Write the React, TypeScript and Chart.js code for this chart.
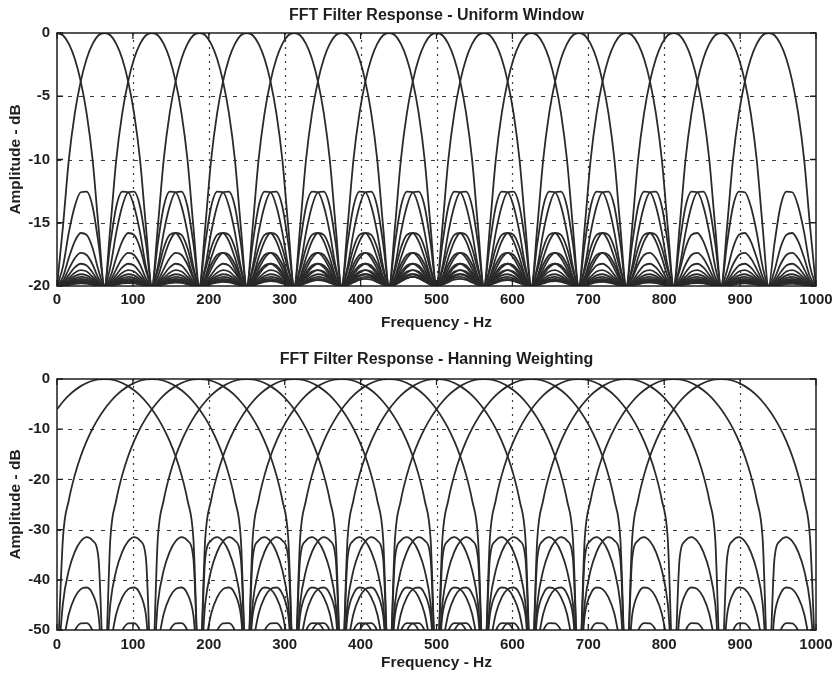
import React, { useEffect, useRef } from 'react';
import { Chart, registerables } from 'chart.js';

Chart.register(...registerables);

// ---------------- data ----------------
const FREQ_TICKS = [0, 100, 200, 300, 400, 500, 600, 700, 800, 900, 1000];
const UNIFORM_DB_TICKS = [-20, -15, -10, -5, 0];
const HANNING_DB_TICKS = [-50, -40, -30, -20, -10, 0];

// FFT bin centre frequencies (Hz) of the plotted filters
const UNIFORM_CENTRES_HZ = [0, 62.5, 125, 187.5, 250, 312.5, 375, 437.5, 500, 562.5, 625, 687.5, 750, 812.5, 875, 937.5];
const HANNING_CENTRES_HZ = [62.5, 125, 187.5, 250, 312.5, 375, 437.5, 500, 562.5, 625, 687.5, 750, 812.5, 875];

const BIN_WIDTH_HZ = 62.5;
const PROFILE_STEP_BINS = 0.125; // profile samples every 1/8 bin away from the filter centre

// Single-filter response (dB) read at offsets 0, 1/8, 2/8 ... bins from the centre
const UNIFORM_PROFILE_DB = [
  0, -0.18, -0.86, -2.04, -3.82, -6.36, -10.0, -15.32,
  -20, -16.63, -13.72, -12.54, -12.59, -13.69, -15.76, -18.47,
  -20, -18.77, -16.99, -15.96, -15.81, -16.47, -17.77, -19.28,
  -20, -19.39, -18.3, -17.55, -17.38, -17.8, -18.66, -19.59,
  -20, -19.64, -18.93, -18.38, -18.24, -18.53, -19.12, -19.74,
  -20, -19.76, -19.27, -18.86, -18.75, -18.95, -19.38, -19.82,
  -20, -19.83, -19.47, -19.16, -19.07, -19.22, -19.54, -19.87,
  -20, -19.87, -19.6, -19.36, -19.28, -19.4, -19.65, -19.9,
  -20, -19.9, -19.69, -19.5, -19.43, -19.52, -19.72, -19.92,
  -20, -19.92, -19.75, -19.59, -19.54, -19.61, -19.77, -19.93,
  -20, -19.94, -19.8, -19.66, -19.62, -19.68, -19.81, -19.95,
  -20, -19.95, -19.83, -19.72, -19.68, -19.73, -19.84, -19.95,
  -20, -19.96, -19.86, -19.76, -19.73, -19.77, -19.87, -19.96,
  -20, -19.96, -19.88, -19.79, -19.77, -19.8, -19.89, -19.97,
  -20, -19.97, -19.89, -19.82, -19.8, -19.83, -19.9, -19.97,
  -20, -19.97, -19.91, -19.84, -19.82, -19.85, -19.91, -19.97,
  -20,
];

const HANNING_PROFILE_DB = [
  0, -0.09, -0.35, -0.79, -1.42, -2.25, -3.27, -4.53,
  -6.02, -7.8, -9.89, -12.39, -15.4, -19.15, -24.1, -31.76,
  -60, -35.75, -32.17, -31.48, -32.31, -34.42, -38.08, -44.69,
  -60, -47.04, -42.8, -41.53, -41.85, -43.5, -46.76, -52.98,
  -60, -54.69, -50.16, -48.62, -48.7, -50.12, -53.16, -59.19,
  -60,
];

// ---------------- style ----------------
const FONT_FAMILY = '"Liberation Sans", Arial, Helvetica, sans-serif';
const TEXT_COLOR = '#1e1e1e';
const LINE_COLOR = '#2a2a2a';
const GRID_COLOR = '#3a3a3a';
const W = 839;
const H = 339;

function buildDatasets(centres: number[], profile: number[]) {
  const n = profile.length - 1;
  return centres.map((c) => {
    const data: { x: number; y: number }[] = [];
    for (let i = -n; i <= n; i++) {
      const x = c + i * PROFILE_STEP_BINS * BIN_WIDTH_HZ;
      if (x < FREQ_TICKS[0] || x > FREQ_TICKS[FREQ_TICKS.length - 1]) continue;
      data.push({ x, y: profile[Math.abs(i)] });
    }
    return {
      data,
      borderColor: LINE_COLOR,
      borderWidth: 1.8,
      pointRadius: 0,
      fill: false,
      cubicInterpolationMode: 'monotone' as const,
    };
  });
}

const framePlugin = {
  id: 'matlabFrame',
  beforeDatasetsDraw(chart: any) {
    const { ctx, chartArea: a, scales } = chart;
    const x = scales.x;
    const y = scales.y;
    ctx.save();
    ctx.strokeStyle = GRID_COLOR;
    ctx.lineWidth = 1.2;
    ctx.setLineDash([2, 5]);
    for (const t of x.ticks) {
      const px = Math.round(x.getPixelForValue(t.value)) + 0.5;
      if (px <= a.left + 2 || px >= a.right - 2) continue;
      ctx.beginPath();
      ctx.moveTo(px, a.top);
      ctx.lineTo(px, a.bottom);
      ctx.stroke();
    }
    ctx.setLineDash([4, 7]);
    for (const t of y.ticks) {
      const py = Math.round(y.getPixelForValue(t.value)) + 0.5;
      if (py <= a.top + 2 || py >= a.bottom - 2) continue;
      ctx.beginPath();
      ctx.moveTo(a.left, py);
      ctx.lineTo(a.right, py);
      ctx.stroke();
    }
    ctx.restore();
  },
  afterDatasetsDraw(chart: any) {
    const { ctx, chartArea: a, scales } = chart;
    const x = scales.x;
    const y = scales.y;
    ctx.save();
    ctx.setLineDash([]);
    ctx.strokeStyle = '#1e1e1e';
    ctx.lineWidth = 1.5;
    ctx.strokeRect(a.left, a.top, a.right - a.left, a.bottom - a.top);
    const tl = 6;
    ctx.lineWidth = 1.3;
    for (const t of x.ticks) {
      const px = x.getPixelForValue(t.value);
      ctx.beginPath();
      ctx.moveTo(px, a.bottom);
      ctx.lineTo(px, a.bottom - tl);
      ctx.moveTo(px, a.top);
      ctx.lineTo(px, a.top + tl);
      ctx.stroke();
    }
    for (const t of y.ticks) {
      const py = y.getPixelForValue(t.value);
      ctx.beginPath();
      ctx.moveTo(a.left, py);
      ctx.lineTo(a.left + tl, py);
      ctx.moveTo(a.right, py);
      ctx.lineTo(a.right - tl, py);
      ctx.stroke();
    }
    ctx.restore();
  },
};

interface PanelSpec {
  title: string;
  centres: number[];
  profile: number[];
  yTicks: number[];
  titlePad: { top: number; bottom: number };
  xAxisHeight: number;
  xTickPad: number;
  xTitlePadBottom: number;
}

function makeConfig(spec: PanelSpec): any {
  const tickFont = { family: FONT_FAMILY, size: 15, weight: 'bold' as const, lineHeight: 1.2 };
  const labelFont = { family: FONT_FAMILY, size: 15.5, weight: 'bold' as const, lineHeight: 1.2 };
  const titleFont = { family: FONT_FAMILY, size: 16, weight: 'bold' as const, lineHeight: 1.2 };
  return {
    type: 'line',
    data: { datasets: buildDatasets(spec.centres, spec.profile) },
    plugins: [framePlugin],
    options: {
      animation: false,
      responsive: false,
      maintainAspectRatio: false,
      events: [],
      layout: { padding: { left: 0, right: 23, top: 0, bottom: 0 } },
      plugins: {
        legend: { display: false },
        tooltip: { enabled: false },
        title: {
          display: true,
          fullSize: false,
          text: spec.title,
          color: TEXT_COLOR,
          font: titleFont,
          padding: spec.titlePad,
        },
      },
      scales: {
        x: {
          type: 'linear',
          min: FREQ_TICKS[0],
          max: FREQ_TICKS[FREQ_TICKS.length - 1],
          afterBuildTicks: (s: any) => {
            s.ticks = FREQ_TICKS.map((v) => ({ value: v }));
          },
          afterFit: (s: any) => {
            s.height = spec.xAxisHeight;
          },
          grid: { display: false, drawTicks: false },
          border: { display: false },
          ticks: {
            padding: spec.xTickPad,
            autoSkip: false,
            maxRotation: 0,
            color: TEXT_COLOR,
            font: tickFont,
            callback: (v: any) => String(v),
          },
          title: {
            display: true,
            text: 'Frequency - Hz',
            color: TEXT_COLOR,
            font: labelFont,
            padding: { top: 0, bottom: spec.xTitlePadBottom },
          },
        },
        y: {
          type: 'linear',
          min: spec.yTicks[0],
          max: spec.yTicks[spec.yTicks.length - 1],
          afterBuildTicks: (s: any) => {
            s.ticks = spec.yTicks.map((v) => ({ value: v }));
          },
          afterFit: (s: any) => {
            s.width = 57;
          },
          grid: { display: false, drawTicks: false },
          border: { display: false },
          ticks: {
            padding: 7,
            autoSkip: false,
            color: TEXT_COLOR,
            font: tickFont,
            callback: (v: any) => String(v),
          },
          title: {
            display: true,
            text: 'Amplitude - dB',
            color: TEXT_COLOR,
            font: labelFont,
            padding: { top: 6, bottom: 0 },
          },
        },
      },
    },
  };
}

function Panel({ spec, top }: { spec: PanelSpec; top: number }) {
  const ref = useRef<HTMLCanvasElement | null>(null);
  useEffect(() => {
    if (!ref.current) return;
    const chart = new Chart(ref.current, makeConfig(spec));
    return () => chart.destroy();
  }, [spec]);
  return (
    <canvas
      ref={ref}
      width={W}
      height={H}
      style={{ position: 'absolute', left: 0, top, width: W, height: H, display: 'block' }}
    />
  );
}

const UNIFORM_SPEC: PanelSpec = {
  title: 'FFT Filter Response - Uniform Window',
  centres: UNIFORM_CENTRES_HZ,
  profile: UNIFORM_PROFILE_DB,
  yTicks: UNIFORM_DB_TICKS,
  titlePad: { top: 5.5, bottom: 8.3 },
  xAxisHeight: 53,
  xTickPad: 5,
  xTitlePadBottom: 6.7,
};

const HANNING_SPEC: PanelSpec = {
  title: 'FFT Filter Response - Hanning Weighting',
  centres: HANNING_CENTRES_HZ,
  profile: HANNING_PROFILE_DB,
  yTicks: HANNING_DB_TICKS,
  titlePad: { top: 11, bottom: 9.8 },
  xAxisHeight: 48,
  xTickPad: 6,
  xTitlePadBottom: 5.7,
};

export default function App() {
  return (
    <div
      style={{
        position: 'absolute',
        left: 0,
        top: 0,
        width: W,
        height: 2 * H,
        background: '#ffffff',
        overflow: 'hidden',
      }}
    >
      <Panel spec={UNIFORM_SPEC} top={0} />
      <Panel spec={HANNING_SPEC} top={H} />
    </div>
  );
}
